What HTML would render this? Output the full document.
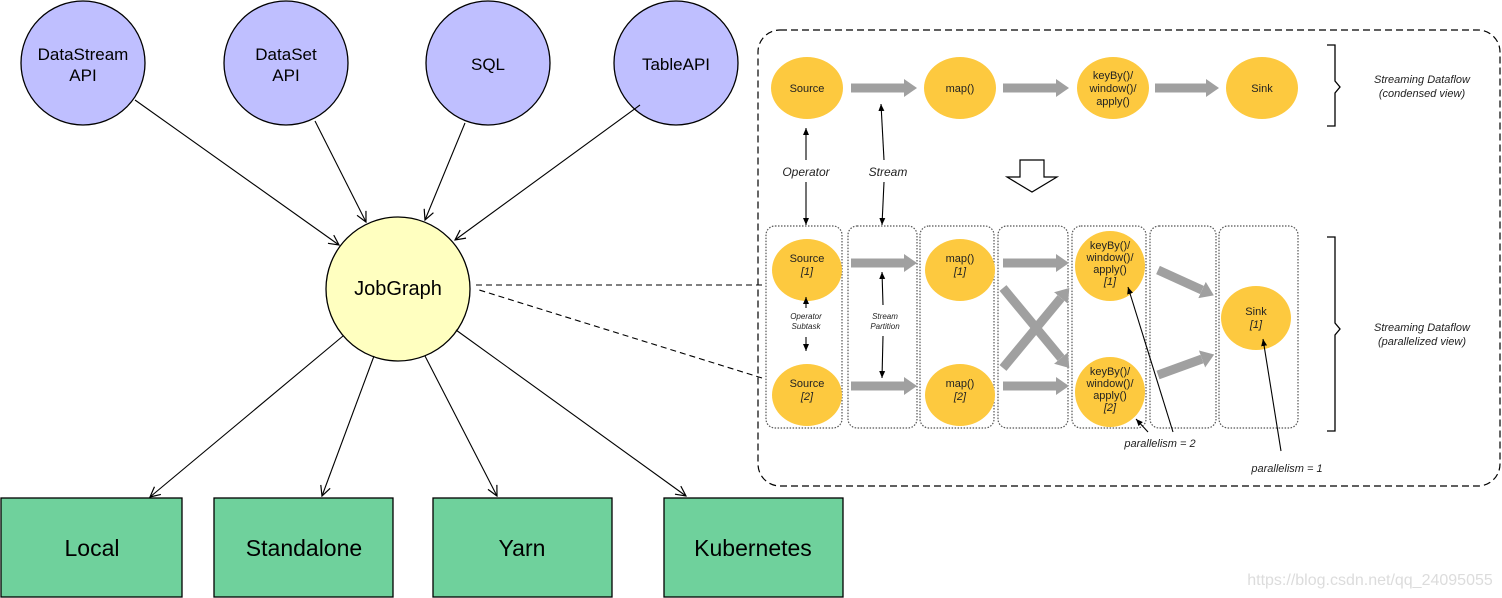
<!DOCTYPE html>
<html><head><meta charset="utf-8"><style>
html,body{margin:0;padding:0;background:#fff;}
svg{display:block;font-family:"Liberation Sans","DejaVu Sans",sans-serif;}
</style></head><body>
<svg width="1502" height="598" viewBox="0 0 1502 598" xmlns="http://www.w3.org/2000/svg">
<defs>
<marker id="v" markerWidth="12" markerHeight="12" refX="11" refY="6" orient="auto" markerUnits="userSpaceOnUse"><path d="M1,1 L11,6 L1,11" fill="none" stroke="#000" stroke-width="1.2"/></marker>
<marker id="s" markerWidth="8" markerHeight="8" refX="7" refY="4" orient="auto" markerUnits="userSpaceOnUse"><path d="M0,1 L7,4 L0,7 Z" fill="#000"/></marker>
<marker id="g" markerWidth="13" markerHeight="18" refX="0" refY="9" orient="auto" markerUnits="userSpaceOnUse"><path d="M0,0 L13,9 L0,18 Z" fill="#a0a0a0"/></marker>
</defs>
<!-- left -->
<g stroke="#000" stroke-width="1.3">
<circle cx="83" cy="63" r="62" fill="#bfbfff"/>
<circle cx="286" cy="63" r="62" fill="#bfbfff"/>
<circle cx="488" cy="63" r="62" fill="#bfbfff"/>
<circle cx="676" cy="63" r="62" fill="#bfbfff"/>
<circle cx="398" cy="289" r="72" fill="#ffffc0"/>
<rect x="1" y="498" width="181" height="99" fill="#6fd19c"/>
<rect x="214" y="498" width="179" height="99" fill="#6fd19c"/>
<rect x="433" y="498" width="179" height="99" fill="#6fd19c"/>
<rect x="664" y="498" width="179" height="99" fill="#6fd19c"/>
</g>
<g stroke="#000" stroke-width="1.1" fill="none" marker-end="url(#v)">
<line x1="135" y1="100" x2="339" y2="245"/>
<line x1="315" y1="121" x2="366" y2="222"/>
<line x1="465" y1="123" x2="425" y2="220"/>
<line x1="640" y1="105" x2="455" y2="240"/>
<line x1="343" y1="336" x2="150" y2="497"/>
<line x1="374" y1="356" x2="322" y2="496"/>
<line x1="425" y1="356" x2="497" y2="496"/>
<line x1="456" y1="330" x2="686" y2="496"/>
</g>
<g stroke="#000" stroke-width="1.1" fill="none" stroke-dasharray="6,4">
<line x1="762" y1="285" x2="476" y2="285"/>
<line x1="762" y1="378" x2="476" y2="289"/>
</g>
<g font-size="17" text-anchor="middle" fill="#000">
<text x="83" y="60">DataStream</text><text x="83" y="81">API</text>
<text x="286" y="60">DataSet</text><text x="286" y="81">API</text>
<text x="488" y="70">SQL</text>
<text x="676" y="70">TableAPI</text>
<text x="398" y="295" font-size="20">JobGraph</text>
</g>
<g font-size="23" text-anchor="middle">
<text x="92" y="556">Local</text><text x="304" y="556">Standalone</text><text x="522" y="556">Yarn</text><text x="753" y="556">Kubernetes</text>
</g>
<!-- right panel -->
<rect x="758" y="30" width="742" height="456" rx="22" fill="none" stroke="#000" stroke-width="1.2" stroke-dasharray="7,4"/>
<g fill="#fdc93f">
<ellipse cx="807" cy="88" rx="36" ry="31"/><ellipse cx="960" cy="88" rx="36" ry="31"/>
<ellipse cx="1113" cy="88" rx="36" ry="31"/><ellipse cx="1262" cy="88" rx="36" ry="31"/>
</g>
<g stroke="#a0a0a0" stroke-width="9" marker-end="url(#g)">
<line x1="851" y1="88" x2="904" y2="88"/><line x1="1003" y1="88" x2="1056" y2="88"/><line x1="1155" y1="88" x2="1206" y2="88"/>
</g>
<g font-size="11" text-anchor="middle" fill="#222">
<text x="807" y="92">Source</text><text x="960" y="92">map()</text>
<text x="1113" y="79">keyBy()/</text><text x="1113" y="92">window()/</text><text x="1113" y="105">apply()</text>
<text x="1262" y="92">Sink</text>
</g>
<path d="M1327,45 h8 v36 l5,6 l-5,6 v33 h-8" fill="none" stroke="#000" stroke-width="1.3"/>
<g font-size="11" font-style="italic" text-anchor="middle" fill="#222">
<text x="1422" y="83">Streaming Dataflow</text><text x="1422" y="97">(condensed view)</text>
<text x="1422" y="331">Streaming Dataflow</text><text x="1422" y="345">(parallelized view)</text>
<text x="806" y="176" font-size="12">Operator</text><text x="888" y="176" font-size="12">Stream</text>
<text x="1160" y="447">parallelism = 2</text><text x="1287" y="472">parallelism = 1</text>
</g>
<g stroke="#000" stroke-width="1.1">
<line x1="806" y1="160" x2="806" y2="128" marker-end="url(#s)"/>
<line x1="806" y1="182" x2="806" y2="225" marker-end="url(#s)"/>
<line x1="884" y1="160" x2="881" y2="104" marker-end="url(#s)"/>
<line x1="884" y1="182" x2="882" y2="225" marker-end="url(#s)"/>
</g>
<path d="M1020,160 h24 v17 h13 l-25,15 l-25,-15 h13 Z" fill="#fff" stroke="#000" stroke-width="1.2"/>
<g fill="none" stroke="#555" stroke-width="1.2" stroke-dasharray="1.5,1.5">
<rect x="766" y="226" width="76" height="202" rx="9"/>
<rect x="848" y="226" width="69" height="202" rx="9"/>
<rect x="920" y="226" width="74" height="202" rx="9"/>
<rect x="998" y="226" width="70" height="202" rx="9"/>
<rect x="1072" y="226" width="74" height="202" rx="9"/>
<rect x="1150" y="226" width="66" height="202" rx="9"/>
<rect x="1219" y="226" width="79" height="202" rx="9"/>
</g>
<path d="M1327,237 h8 v86 l5,6 l-5,6 v96 h-8" fill="none" stroke="#000" stroke-width="1.3"/>
<g fill="#fdc93f">
<ellipse cx="807" cy="270" rx="35" ry="31"/><ellipse cx="807" cy="395" rx="35" ry="31"/>
<ellipse cx="960" cy="270" rx="35" ry="31"/><ellipse cx="960" cy="395" rx="35" ry="31"/>
<ellipse cx="1110" cy="266" rx="35" ry="35"/><ellipse cx="1110" cy="392" rx="35" ry="35"/>
<ellipse cx="1256" cy="318" rx="35" ry="32"/>
</g>
<g stroke="#a0a0a0" stroke-width="9" marker-end="url(#g)">
<line x1="851" y1="263" x2="904" y2="263"/><line x1="851" y1="386" x2="904" y2="386"/>
<line x1="1003" y1="263" x2="1056" y2="263"/><line x1="1003" y1="386" x2="1056" y2="386"/>
<line x1="1003" y1="288" x2="1061" y2="358"/><line x1="1003" y1="368" x2="1061" y2="298"/>
<line x1="1158" y1="270" x2="1202" y2="290"/><line x1="1158" y1="375" x2="1202" y2="359"/>
</g>
<g font-size="11" text-anchor="middle" fill="#222">
<text x="807" y="262">Source</text><text x="807" y="275" font-style="italic">[1]</text>
<text x="807" y="387">Source</text><text x="807" y="400" font-style="italic">[2]</text>
<text x="960" y="262">map()</text><text x="960" y="275" font-style="italic">[1]</text>
<text x="960" y="387">map()</text><text x="960" y="400" font-style="italic">[2]</text>
<text x="1110" y="249">keyBy()/</text><text x="1110" y="261">window()/</text><text x="1110" y="273">apply()</text><text x="1110" y="285" font-style="italic">[1]</text>
<text x="1110" y="375">keyBy()/</text><text x="1110" y="387">window()/</text><text x="1110" y="399">apply()</text><text x="1110" y="411" font-style="italic">[2]</text>
<text x="1256" y="315">Sink</text><text x="1256" y="328" font-style="italic">[1]</text>
<g font-size="8" font-style="italic"><text x="806" y="319">Operator</text><text x="806" y="329">Subtask</text>
<text x="885" y="319">Stream</text><text x="885" y="329">Partition</text></g>
</g>
<g stroke="#000" stroke-width="1.1">
<line x1="806" y1="308" x2="806" y2="297" marker-end="url(#s)"/>
<line x1="806" y1="337" x2="806" y2="351" marker-end="url(#s)"/>
<line x1="883" y1="305" x2="882" y2="272" marker-end="url(#s)"/>
<line x1="883" y1="336" x2="882" y2="378" marker-end="url(#s)"/>
<line x1="1148" y1="432" x2="1136" y2="419" marker-end="url(#s)"/>
<line x1="1173" y1="432" x2="1128" y2="287" marker-end="url(#s)"/>
<line x1="1281" y1="451" x2="1263" y2="339" marker-end="url(#s)"/>
</g>
<text x="1370" y="585" font-size="16" fill="#dcdcdc" text-anchor="middle">https://blog.csdn.net/qq_24095055</text>
</svg>
</body></html>
